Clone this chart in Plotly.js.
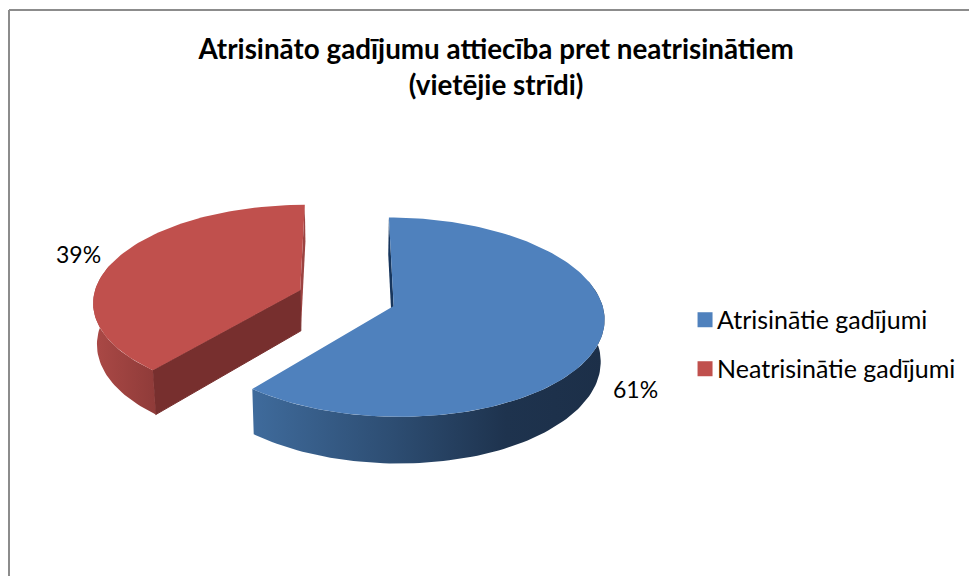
<!DOCTYPE html>
<html>
<head>
<meta charset="utf-8">
<script src="https://cdn.plot.ly/plotly-3.0.1.min.js"></script>
<style>html,body{margin:0;padding:0;background:#fff}#chart{width:969px;height:576px}</style>
</head>
<body>
<div id="chart"></div>
<script>
const chartTitle = "Atrisināto gadījumu attiecība pret neatrisinātiem<br>(vietējie strīdi)";
const categories = ["Atrisinātie gadījumi", "Neatrisinātie gadījumi"];
const values = [61, 39];
const topColors = ["#4f81bd", "#c0504d"];
const FONT = "Lato, Carlito, Calibri, sans-serif";

// Projection of the tilted, exploded pie onto the page scale
const view = {cx: 346.5, cy: 298, rx: 207, ry: 96.6, persp: 0.112, explode: 0.24, depth: 41, bottomScale: 0.985};

function project(u, v, lower) {
  const s = 1 / (1 + view.persp * v);
  const z = lower ? view.bottomScale : 1;
  return [view.cx + u * s * view.rx * z, view.cy - v * s * view.ry + (lower ? view.depth * s : 0)];
}
const total = values.reduce((a, b) => a + b, 0);
const rad = d => d * Math.PI / 180;
let startAngle = 0;
const slices = values.map(val => {
  const a0 = startAngle, a1 = a0 + val / total * 360;
  startAngle = a1;
  const mid = rad((a0 + a1) / 2);
  return {a0, a1, ou: Math.sin(mid) * view.explode, ov: Math.cos(mid) * view.explode};
});
function rim(sl, deg, lower) {
  return project(sl.ou + Math.sin(rad(deg)), sl.ov + Math.cos(rad(deg)), lower);
}
function arc(sl, d0, d1, lower) {
  const n = Math.max(2, Math.ceil(Math.abs(d1 - d0) / 1.5));
  const pts = [];
  for (let i = 0; i <= n; i++) pts.push(rim(sl, d0 + (d1 - d0) * i / n, lower));
  return pts;
}
function poly(pts, style) {
  const closed = pts.concat([pts[0]]);
  return Object.assign({
    type: "scatter", mode: "lines", x: closed.map(p => p[0]), y: closed.map(p => p[1]),
    fill: "toself", line: {width: 0}, showlegend: false, hoverinfo: "skip"
  }, style);
}
function wall(sl, deg) {
  return [project(sl.ou, sl.ov, false), rim(sl, deg, false), rim(sl, deg, true), project(sl.ou, sl.ov, true)];
}
function side(sl, d0, d1) {
  return arc(sl, d0, d1, false).concat(arc(sl, d1, d0, true));
}
function topFace(sl) {
  return [project(sl.ou, sl.ov, false)].concat(arc(sl, sl.a0, sl.a1, false));
}
const [blue, red] = slices;
const traces = [
  poly(wall(red, red.a1), {fillcolor: "#9c4341"}),
  poly(wall(red, red.a0), {fillcolor: "#772f2e", line: {width: 1, color: "#772f2e"}}),
  poly(side(red, red.a0, 285), {
    fillcolor: "#a5443f",
    fillgradient: {type: "horizontal", colorscale: [[0, "#ab4946"], [1, "#8f3b39"]]}
  }),
  poly(topFace(red), {fillcolor: topColors[1]}),
  poly(wall(blue, blue.a0), {fillcolor: "#17365d"}),
  poly(side(blue, 75, blue.a1), {
    fillcolor: "#2c4a6c",
    fillgradient: {type: "horizontal", colorscale: [[0, "#3f6b9c"], [0.4, "#2d4d72"], [0.72, "#1e334e"], [1, "#1c2f48"]]}
  }),
  poly(topFace(blue), {fillcolor: topColors[0]})
];
categories.forEach((name, i) => traces.push({
  type: "scatter", mode: "markers", x: [null], y: [null], name, legendgroup: name,
  marker: {symbol: "square", size: 15, color: topColors[i]}, hoverinfo: "skip"
}));

const layout = {
  width: 969, height: 576, autosize: false,
  margin: {l: 0, r: 0, t: 0, b: 0},
  paper_bgcolor: "#fff", plot_bgcolor: "#fff",
  xaxis: {range: [0, 969], visible: false, fixedrange: true},
  yaxis: {range: [576, 0], visible: false, fixedrange: true},
  title: {
    text: "<b>" + chartTitle + "</b>", x: 0.512, xref: "paper", xanchor: "center",
    y: 0.898, yref: "paper", yanchor: "top",
    font: {family: FONT, size: 27.8, color: "#000"}
  },
  legend: {
    x: 0.6987, xanchor: "left", y: 0.4844, yanchor: "top",
    font: {family: FONT, size: 25, color: "#000"},
    tracegroupgap: 13.5, itemwidth: 30, bgcolor: "rgba(0,0,0,0)"
  },
  annotations: categories.map((c, i) => ({
    text: Math.round(values[i] / total * 100) + "%",
    x: [635.5, 78.5][i], y: [389, 254][i], xref: "x", yref: "y",
    showarrow: false, font: {family: FONT, size: 23, color: "#000"}
  })),
  shapes: [
    {type: "line", xref: "x", yref: "y", x0: 9, x1: 969, y0: 10, y1: 10, line: {color: "#8c8c8c", width: 2}},
    {type: "line", xref: "x", yref: "y", x0: 9, x1: 9, y0: 10, y1: 576, line: {color: "#8c8c8c", width: 2}}
  ]
};
Plotly.newPlot("chart", traces, layout, {displayModeBar: false, staticPlot: true}).then(() => {
  // Move the legend swatches closer to their labels
  document.querySelectorAll(".legend .legendpoints").forEach(g => g.setAttribute("transform", "translate(8,0)"));
});
</script>
</body>
</html>
